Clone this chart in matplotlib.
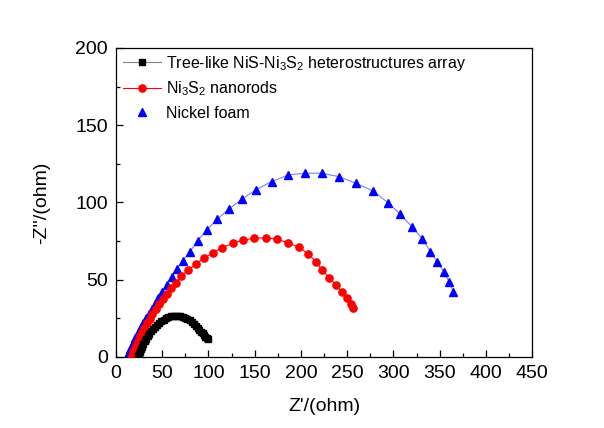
import matplotlib
matplotlib.use("Agg")
import matplotlib.pyplot as plt
from matplotlib.lines import Line2D

plt.rcParams['font.family'] = ['Liberation Sans', 'DejaVu Sans']
plt.rcParams['mathtext.default'] = 'regular'

# Tree-like NiS-Ni3S2 heterostructures array
black_x = [23.5, 24.5, 25.6, 26.8, 28.1, 29.5, 31.0, 32.6, 34.3, 36.1, 38.0, 40.0, 42.1, 44.3,
           46.6, 49.0, 51.5, 54.0, 56.6, 59.2, 61.8, 64.4, 67.0, 69.6, 72.2, 74.7, 77.2, 79.6,
           81.9, 84.1, 86.2, 88.2, 90.1, 91.9, 93.6, 95.2, 96.7, 98.1, 99.4]
black_y = [0.3, 1.8, 3.4, 5.0, 6.7, 8.4, 10.1, 11.8, 13.5, 15.1, 16.7, 18.2, 19.6, 20.9,
           22.1, 23.2, 24.2, 25.0, 25.7, 26.2, 26.5, 26.7, 26.7, 26.5, 26.1, 25.5, 24.7, 23.8,
           22.7, 21.5, 20.3, 19.0, 17.7, 16.4, 15.2, 14.1, 13.1, 12.3, 11.6]

# Ni3S2 nanorods
red_x = [16.8, 17.3, 17.9, 18.6, 19.5, 20.5, 21.7, 23.1, 24.7, 26.5, 28.5, 30.8, 33.4, 36.3,
         39.5, 43.0, 46.8, 51.2, 54.8, 59.5, 64.9, 70.3, 78.2, 86.9, 95.5, 105.3, 115.0, 126.2,
         137.7, 149.6, 161.9, 173.8, 185.7, 197.7, 208.0, 216.0, 223.2, 230.8, 238.0, 244.2,
         249.6, 254.2, 256.7]
red_y = [0.2, 0.9, 1.8, 2.9, 4.2, 5.7, 7.4, 9.3, 11.4, 13.7, 16.2, 18.9, 21.7, 24.7,
         27.8, 31.0, 34.3, 37.5, 40.8, 44.5, 47.9, 52.2, 56.3, 60.2, 64.1, 67.5, 70.7, 73.6,
         75.7, 76.8, 77.2, 76.2, 74.0, 71.0, 66.7, 61.7, 56.1, 51.3, 46.6, 41.9,
         38.0, 34.3, 31.5]

# Nickel foam
blue_x = [12.2, 12.7, 13.3, 14.0, 14.8, 15.7, 16.8, 18.0, 19.4, 21.0, 22.8, 24.8, 27.0, 29.5,
          32.2, 35.2, 38.6, 42.2, 45.8, 50.1, 54.8, 60.3, 65.7, 72.2, 80.1, 88.4, 98.1, 109.6,
          122.2, 136.6, 151.1, 168.4, 186.4, 204.5, 222.5, 241.2, 259.6, 278.3, 293.9, 307.2,
          320.2, 331.4, 340.0, 347.6, 354.8, 360.2, 364.9]
blue_y = [0.2, 0.9, 1.8, 2.8, 4.0, 5.3, 6.8, 8.5, 10.3, 12.3, 14.5, 16.9, 19.4, 22.1,
          25.0, 28.0, 31.1, 34.3, 38.0, 41.9, 46.6, 51.8, 57.0, 62.3, 68.2, 75.3, 82.2, 89.1,
          95.8, 102.3, 108.1, 113.5, 117.8, 118.9, 118.9, 116.7, 112.4, 107.4, 99.9, 92.6,
          84.1, 76.4, 68.2, 61.3, 55.0, 48.7, 42.1]

labels = ['Tree-like NiS-Ni$_3$S$_2$ heterostructures array',
          'Ni$_3$S$_2$ nanorods',
          'Nickel foam']
x_ticks = [0, 50, 100, 150, 200, 250, 300, 350, 400, 450]
y_ticks = [0, 50, 100, 150, 200]

fig = plt.figure(figsize=(6.04, 4.28), dpi=100)
ax = fig.add_axes([0.192, 0.166, 0.689, 0.722])

ax.plot(blue_x, blue_y, color='#7b7bff', lw=0.8, zorder=1)
ax.plot(blue_x, blue_y, ls='none', marker='^', ms=6, color='#0000ff', mec='#0000ff', zorder=2)
ax.plot(red_x, red_y, color='#ff0000', lw=0.8, marker='o', ms=5.2, mfc='#ff0000', mec='#ff0000', zorder=3)
ax.plot(black_x, black_y, color='#808080', lw=0.8, marker='s', ms=4.2, mfc='#000000', mec='#000000', zorder=4)

ax.set_xlim(0, 450)
ax.set_ylim(0, 200)
ax.set_xticks(x_ticks)
ax.set_yticks(y_ticks)
ax.set_xticks([x + 25 for x in x_ticks[:-1]], minor=True)
ax.set_yticks([y + 25 for y in y_ticks[:-1]], minor=True)
ax.tick_params(which='both', direction='in', top=False, right=False, labelsize=14, width=0.9)
ax.tick_params(which='major', length=5, pad=6)
ax.tick_params(which='minor', length=3)
for s in ax.spines.values():
    s.set_linewidth(0.9)

ax.set_xlabel("Z'/(ohm)", fontsize=14, labelpad=11)
ax.set_ylabel("-Z''/(ohm)", fontsize=14, labelpad=18)

handles = [
    Line2D([], [], color='#808080', lw=0.8, marker='s', ms=4.2, mfc='#000000', mec='#000000'),
    Line2D([], [], color='#ff0000', lw=0.8, marker='o', ms=5.2, mfc='#ff0000', mec='#ff0000'),
    Line2D([], [], ls='none', marker='^', ms=6, color='#0000ff'),
]
ax.legend(handles, labels, loc='upper left', frameon=False, fontsize=11.5,
          numpoints=1, handlelength=2.4, handletextpad=0.3, labelspacing=0.45,
          bbox_to_anchor=(-0.01, 1.018), borderaxespad=0.3)

fig.savefig('out.png', dpi=100, facecolor='white')
